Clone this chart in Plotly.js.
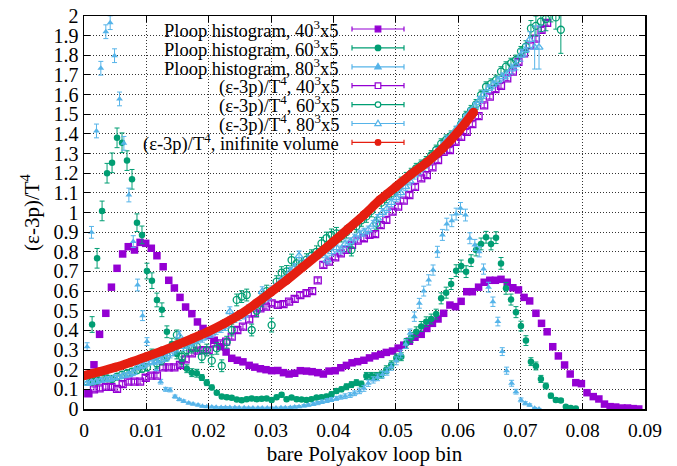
<!DOCTYPE html>
<html>
<head>
<meta charset="utf-8">
<script src="https://cdn.plot.ly/plotly-3.0.1.min.js"></script>
<style>html,body{margin:0;padding:0;background:#fff;}#chart{width:677px;height:466px;}</style>
</head>
<body>
<div id="chart"></div>
<script>
// ---------- data ----------
const bins40 = [0.0007,0.0016,0.0025,0.0035,0.0044,0.0053,0.0062,0.0071,0.0081,0.0090,
0.0099,0.0108,0.0117,0.0127,0.0136,0.0145,0.0154,0.0163,0.0173,0.0182,
0.0191,0.0200,0.0209,0.0219,0.0228,0.0237,0.0246,0.0255,0.0265,0.0274,
0.0283,0.0292,0.0301,0.0311,0.0320,0.0329,0.0338,0.0347,0.0357,0.0366,
0.0375,0.0384,0.0393,0.0403,0.0412,0.0421,0.0430,0.0439,0.0449,0.0458,
0.0467,0.0476,0.0485,0.0495,0.0504,0.0513,0.0522,0.0531,0.0541,0.0550,
0.0559,0.0568,0.0577,0.0587,0.0596,0.0605,0.0614,0.0623,0.0633,0.0642,
0.0651,0.0660,0.0669,0.0679,0.0688,0.0697,0.0706,0.0715,0.0725,0.0734,
0.0743,0.0752,0.0761,0.0771,0.0780,0.0789,0.0798,0.0807,0.0817,0.0826,
0.0835,0.0844,0.0853,0.0863,0.0872,0.0881,0.0890];

const bins60 = [0.0005,0.0013,0.0021,0.0029,0.0037,0.0045,0.0053,0.0061,0.0069,0.0077,
0.0085,0.0093,0.0101,0.0109,0.0117,0.0125,0.0133,0.0141,0.0149,0.0157,
0.0165,0.0173,0.0181,0.0189,0.0197,0.0205,0.0213,0.0221,0.0229,0.0237,
0.0245,0.0253,0.0261,0.0269,0.0277,0.0285,0.0293,0.0301,0.0309,0.0317,
0.0325,0.0333,0.0341,0.0349,0.0357,0.0365,0.0373,0.0381,0.0389,0.0397,
0.0405,0.0413,0.0421,0.0429,0.0437,0.0445,0.0453,0.0461,0.0469,0.0477,
0.0485,0.0493,0.0501,0.0509,0.0517,0.0525,0.0533,0.0541,0.0549,0.0557,
0.0565,0.0573,0.0581,0.0589,0.0597,0.0605,0.0613,0.0621,0.0629,0.0637,
0.0645,0.0653,0.0661,0.0669,0.0677,0.0685,0.0693,0.0701,0.0709,0.0717,
0.0725,0.0733,0.0741,0.0749,0.0757,0.0765,0.0773,0.0781,0.0789];

const bins80 = [0.0005,0.0012,0.0020,0.0027,0.0035,0.0042,0.0049,0.0057,0.0064,0.0072,
0.0079,0.0086,0.0094,0.0101,0.0109,0.0116,0.0123,0.0131,0.0138,0.0146,
0.0153,0.0160,0.0168,0.0175,0.0183,0.0190,0.0197,0.0205,0.0212,0.0220,
0.0227,0.0234,0.0242,0.0249,0.0257,0.0264,0.0271,0.0279,0.0286,0.0294,
0.0301,0.0308,0.0316,0.0323,0.0331,0.0338,0.0345,0.0353,0.0360,0.0368,
0.0375,0.0382,0.0390,0.0397,0.0405,0.0412,0.0419,0.0427,0.0434,0.0442,
0.0449,0.0456,0.0464,0.0471,0.0479,0.0486,0.0493,0.0501,0.0508,0.0516,
0.0523,0.0530,0.0538,0.0545,0.0553,0.0560,0.0567,0.0575,0.0582,0.0590,
0.0597,0.0604,0.0612,0.0619,0.0627,0.0634,0.0641,0.0649,0.0656,0.0664,
0.0671,0.0678,0.0686,0.0693,0.0701,0.0708,0.0715,0.0723,0.0730];

// Ploop histogram, 40^3x5 (on bins40)
const hist40 = [0.08,0.225,0.38,0.487,0.62,0.716,0.789,0.826,0.809,0.848,
0.843,0.818,0.78,0.724,0.655,0.616,0.568,0.519,0.485,0.443,
0.41,0.375,0.35,0.317,0.29,0.258,0.248,0.24,0.222,0.213,
0.205,0.2,0.195,0.196,0.185,0.178,0.182,0.195,0.193,0.19,
0.185,0.178,0.193,0.195,0.21,0.222,0.235,0.241,0.248,0.26,
0.27,0.278,0.288,0.295,0.31,0.325,0.345,0.365,0.38,0.41,
0.436,0.458,0.487,0.529,0.521,0.548,0.597,0.597,0.62,0.645,
0.655,0.655,0.66,0.645,0.617,0.606,0.568,0.55,0.487,0.436,
0.393,0.317,0.27,0.224,0.178,0.134,0.129,0.083,0.063,0.051,
0.025,0.012,0.01,0.005,0.005,0.002,0.0];

// Ploop histogram, 60^3x5 (on bins60, from the 2nd bin)
const hist60 = [0.43,0.767,1.008,1.2,1.253,1.38,1.355,1.264,1.169,0.948,
0.886,0.702,0.653,0.555,0.505,0.393,0.33,0.28,0.24,0.205,
0.185,0.182,0.16,0.134,0.11,0.083,0.063,0.06,0.057,0.048,
0.045,0.05,0.054,0.05,0.052,0.054,0.046,0.06,0.072,0.05,
0.058,0.05,0.048,0.046,0.05,0.058,0.06,0.063,0.075,0.092,
0.1,0.113,0.124,0.134,0.127,0.168,0.168,0.168,0.175,0.2,
0.225,0.26,0.266,0.334,0.365,0.393,0.42,0.444,0.458,0.483,
0.563,0.592,0.636,0.704,0.728,0.699,0.755,0.809,0.84,0.874,
0.84,0.872,0.741,0.614,0.557,0.493,0.422,0.348,0.241,0.219,
0.153,0.117,0.068,0.046,0.043,0.012,0.005,0.003];
const hist60Err = [0.04,0.05,0.05,0.05,0.05,0.05,0.05,0.05,0.05,0.045,
0.045,0.04,0.04,0.035,0.035,0.03,0.03,0.025,0.025,0.02,
0.02,0.02,0.015,0.015,0.012,0.01,0.01,0.01,0.01,0.01,
0.01,0.01,0.01,0.01,0.01,0.01,0.01,0.01,0.012,0.01,
0.01,0.01,0.01,0.01,0.01,0.01,0.01,0.012,0.012,0.012,
0.012,0.015,0.015,0.015,0.015,0.018,0.018,0.018,0.018,0.02,
0.02,0.02,0.02,0.025,0.025,0.025,0.025,0.025,0.025,0.025,
0.028,0.028,0.028,0.03,0.03,0.03,0.03,0.03,0.03,0.03,
0.03,0.03,0.03,0.03,0.028,0.028,0.025,0.025,0.02,0.02,
0.018,0.015,0.012,0.01,0.01,0.006,0.004,0.003];

// Ploop histogram, 80^3x5 (on bins80)
const hist80 = [0.317,0.899,1.415,1.734,1.92,1.966,1.798,1.578,1.352,1.089,
0.852,0.631,0.475,0.343,0.26,0.2,0.139,0.1,0.097,0.063,
0.048,0.04,0.03,0.025,0.02,0.014,0.012,0.01,0.009,0.008,
0.008,0.007,0.007,0.006,0.006,0.005,0.005,0.005,0.005,0.005,
0.005,0.005,0.006,0.006,0.008,0.01,0.012,0.016,0.02,0.025,
0.03,0.037,0.043,0.048,0.054,0.06,0.065,0.071,0.08,0.092,
0.105,0.131,0.148,0.161,0.175,0.19,0.215,0.245,0.28,0.33,
0.385,0.47,0.538,0.6,0.657,0.707,0.8,0.886,0.941,0.958,
0.992,1.021,0.987,0.869,0.835,0.8,0.712,0.62,0.546,0.445,
0.292,0.195,0.131,0.088,0.046,0.029,0.02,0.004,0.0];
const hist80Err = [0.02,0.03,0.035,0.035,0.035,0.035,0.035,0.035,0.035,0.035,
0.03,0.03,0.025,0.02,0.015,0.015,0.012,0.01,0.01,0.008,
0.006,0.006,0.005,0.005,0.005,0.004,0.004,0.004,0.004,0.004,
0.004,0.004,0.004,0.004,0.004,0.004,0.004,0.004,0.004,0.004,
0.004,0.004,0.004,0.004,0.005,0.005,0.005,0.006,0.006,0.007,
0.008,0.009,0.01,0.01,0.01,0.01,0.012,0.012,0.012,0.014,
0.015,0.016,0.016,0.017,0.017,0.018,0.018,0.02,0.02,0.022,
0.022,0.024,0.025,0.025,0.026,0.026,0.028,0.028,0.03,0.03,
0.03,0.03,0.03,0.028,0.028,0.026,0.026,0.025,0.024,0.022,
0.02,0.018,0.015,0.012,0.01,0.008,0.006,0.004,0.003];

// (e-3p)/T^4, 40^3x5 (on bins40)
const trace40 = [0.08,0.1,0.105,0.113,0.113,0.102,0.127,0.139,0.139,0.139,
0.159,0.17,0.17,0.212,0.212,0.212,0.224,0.253,0.283,0.297,
0.3,0.3,0.334,0.334,0.343,0.368,0.402,0.419,0.456,0.487,
0.512,0.521,0.538,0.53,0.534,0.546,0.56,0.58,0.59,0.6,
0.655,0.733,0.75,0.772,0.792,0.81,0.835,0.857,0.869,0.886,
0.89,0.936,0.962,1.004,1.03,1.06,1.089,1.13,1.174,1.19,
1.23,1.267,1.309,1.318,1.36,1.385,1.41,1.45,1.49,1.545,
1.59,1.628,1.644,1.683,1.717,1.767,1.81,1.85,1.885,1.93,
1.965];

// (e-3p)/T^4, 60^3x5 (on bins60)
const trace60 = [0.139,0.14,0.145,0.156,0.156,0.153,0.165,0.175,0.182,0.19,
0.198,0.205,0.212,0.28,0.233,0.25,0.27,0.317,0.377,0.266,
0.3,0.31,0.317,0.266,0.3,0.246,0.309,0.22,0.34,0.402,
0.555,0.572,0.58,0.402,0.5,0.55,0.6,0.427,0.648,0.694,
0.7,0.758,0.741,0.74,0.76,0.78,0.8,0.843,0.87,0.886,
0.894,0.88,0.9,0.809,0.93,0.96,0.98,1.008,0.945,1.05,
1.08,1.097,1.12,1.15,1.174,1.2,1.225,1.242,1.26,1.29,
1.318,1.35,1.37,1.39,1.411,1.45,1.49,1.52,1.55,1.598,
1.64,1.655,1.674,1.717,1.742,1.76,1.776,1.82,1.844,1.937,
1.95,1.971,1.985,2.05,1.993,1.93];
const trace60Err = [0.015,0.015,0.015,0.015,0.015,0.015,0.015,0.015,0.015,0.015,
0.018,0.018,0.018,0.025,0.025,0.025,0.025,0.025,0.025,0.025,
0.025,0.025,0.025,0.03,0.03,0.03,0.03,0.03,0.03,0.03,
0.03,0.03,0.03,0.03,0.03,0.03,0.03,0.035,0.03,0.03,
0.03,0.03,0.03,0.03,0.03,0.03,0.03,0.03,0.03,0.03,
0.03,0.03,0.03,0.03,0.03,0.03,0.03,0.03,0.03,0.03,
0.03,0.03,0.03,0.03,0.03,0.025,0.025,0.025,0.025,0.025,
0.025,0.025,0.025,0.025,0.025,0.025,0.025,0.025,0.025,0.025,
0.025,0.025,0.025,0.025,0.025,0.025,0.025,0.025,0.03,0.04,
0.05,0.05,0.06,0.08,0.06,0.12];

// (e-3p)/T^4, 80^3x5 (on bins80)
const trace80 = [0.13,0.135,0.14,0.145,0.15,0.152,0.16,0.163,0.17,0.175,
0.185,0.215,0.22,0.233,0.24,0.245,0.25,0.26,0.28,0.3,
0.371,0.317,0.33,0.34,0.355,0.36,0.375,0.385,0.4,0.41,
0.42,0.495,0.46,0.47,0.478,0.51,0.521,0.54,0.597,0.57,
0.606,0.62,0.65,0.66,0.7,0.72,0.779,0.74,0.76,0.77,
0.784,0.79,0.758,0.8,0.82,0.809,0.84,0.851,0.87,0.89,
0.9,0.911,0.94,0.97,1.0,1.02,1.05,1.075,1.1,1.131,
1.16,1.19,1.216,1.235,1.258,1.28,1.31,1.34,1.37,1.39,
1.42,1.45,1.48,1.51,1.54,1.57,1.6,1.63,1.65,1.67,
1.69,1.70,1.73,1.751,1.8,1.827,1.88,1.84,1.84];
const trace80Err = [0.01,0.01,0.01,0.01,0.01,0.01,0.01,0.01,0.012,0.012,
0.015,0.015,0.015,0.015,0.015,0.018,0.018,0.018,0.02,0.02,
0.025,0.02,0.02,0.02,0.02,0.02,0.02,0.02,0.02,0.02,
0.02,0.025,0.02,0.02,0.02,0.02,0.02,0.02,0.025,0.02,
0.02,0.02,0.02,0.02,0.02,0.02,0.025,0.02,0.02,0.02,
0.02,0.02,0.02,0.02,0.02,0.02,0.02,0.02,0.02,0.02,
0.02,0.02,0.02,0.02,0.02,0.02,0.02,0.02,0.02,0.02,
0.02,0.02,0.02,0.02,0.02,0.02,0.02,0.02,0.02,0.02,
0.02,0.02,0.02,0.02,0.02,0.02,0.02,0.02,0.02,0.02,
0.02,0.02,0.025,0.025,0.03,0.03,0.04,0.11,0.11];

// (e-3p)/T^4, infinite volume
const infX = [0,0.0025,0.005,0.0075,0.01,0.0125,0.015,0.0175,0.02,0.0225,0.025,0.0275,0.03,
0.0325,0.035,0.0375,0.04,0.0425,0.045,0.0475,0.05,0.0525,0.055,0.0575,0.06,0.0625];
const infY = [0.17,0.19,0.212,0.238,0.266,0.295,0.327,0.36,0.395,0.435,0.48,0.535,0.595,
0.655,0.72,0.785,0.851,0.92,0.99,1.065,1.13,1.195,1.255,1.325,1.41,1.51];

const legendLabels = [
  'Ploop histogram, 40<sup>3</sup>x5',
  'Ploop histogram, 60<sup>3</sup>x5',
  'Ploop histogram, 80<sup>3</sup>x5',
  '(ε-3p)/T<sup>4</sup>, 40<sup>3</sup>x5',
  '(ε-3p)/T<sup>4</sup>, 60<sup>3</sup>x5',
  '(ε-3p)/T<sup>4</sup>, 80<sup>3</sup>x5',
  '(ε-3p)/T<sup>4</sup>, inifinite volume'
];
const xTitle = 'bare Polyakov loop bin';
const yTitle = '(ε-3p)/T<sup>4</sup>';

// ---------- styling ----------
const PURPLE = '#9400d3', GREEN = '#009e73', BLUE = '#56b4e9', RED = '#e51e10';
const FONT = 'Liberation Serif, Times New Roman, serif';

function eb(color, arr, cval) {
  const o = {visible: true, color: color, thickness: 1, width: 2.5};
  if (arr) { o.type = 'data'; o.array = arr; } else { o.type = 'constant'; o.value = cval; }
  return o;
}

const traces = [
  {x: bins40.slice(0, hist40.length), y: hist40, mode: 'markers', type: 'scatter',
   marker: {symbol: 'square', size: 7.5, color: PURPLE}, error_y: eb(PURPLE, null, 0.01)},
  {x: bins60.slice(1, 1 + hist60.length), y: hist60, mode: 'markers', type: 'scatter',
   marker: {symbol: 'circle', size: 6.5, color: GREEN}, error_y: eb(GREEN, hist60Err)},
  {x: bins80.slice(0, hist80.length), y: hist80, mode: 'markers', type: 'scatter',
   marker: {symbol: 'triangle-up', size: 6, color: BLUE}, error_y: eb(BLUE, hist80Err)},
  {x: bins40.slice(0, trace40.length), y: trace40, mode: 'markers', type: 'scatter',
   marker: {symbol: 'square-open', size: 7, color: PURPLE, line: {width: 1.3, color: PURPLE}}, error_y: eb(PURPLE, null, 0.012)},
  {x: bins60.slice(0, trace60.length), y: trace60, mode: 'markers', type: 'scatter',
   marker: {symbol: 'circle-open', size: 7, color: GREEN, line: {width: 1.3, color: GREEN}}, error_y: eb(GREEN, trace60Err)},
  {x: bins80.slice(0, trace80.length), y: trace80, mode: 'markers', type: 'scatter',
   marker: {symbol: 'triangle-up-open', size: 7, color: BLUE, line: {width: 1.3, color: BLUE}}, error_y: eb(BLUE, trace80Err)},
  {x: infX, y: infY, mode: 'lines+markers', type: 'scatter',
   line: {color: RED, width: 9, shape: 'spline'}, marker: {symbol: 'circle', size: 9, color: RED}}
];

// ---------- legend (gnuplot style: text right-aligned, sample on the right) ----------
const L = 84, R = 645, T = 16, B = 409;
const px2x = p => (p - L) / (R - L);
const py2y = p => 1 - (p - T) / (B - T);
const rowPx = [29, 47.9, 66.8, 85.7, 104.6, 123.5, 142.4];
const colors = [PURPLE, GREEN, BLUE, PURPLE, GREEN, BLUE, RED];
const kinds = ['sq', 'ci', 'tr', 'sqo', 'cio', 'tro', 'ci'];
const shapes = [{type: 'rect', xref: 'paper', yref: 'paper', x0: 0, x1: px2x(412), y0: py2y(151), y1: 1,
  fillcolor: '#fff', line: {width: 0}, layer: 'between'}];
const annotations = [];
rowPx.forEach((p, i) => {
  const y = py2y(p), c = colors[i];
  const xa = px2x(352), xb = px2x(404), xm = px2x(378);
  shapes.push({type: 'line', xref: 'paper', yref: 'paper', x0: xa, x1: xb, y0: y, y1: y, line: {color: c, width: 1.2}});
  [xa, xb].forEach(xx => shapes.push({type: 'line', xref: 'paper', yref: 'paper', xsizemode: 'pixel', ysizemode: 'pixel',
    xanchor: xx, yanchor: y, x0: 0, x1: 0, y0: -2.6, y1: 2.6, line: {color: c, width: 1.2}}));
  const k = kinds[i];
  const base = {xref: 'paper', yref: 'paper', xsizemode: 'pixel', ysizemode: 'pixel', xanchor: xm, yanchor: y};
  const open = k.endsWith('o');
  const fill = open ? '#fff' : c;
  if (k.startsWith('sq')) shapes.push(Object.assign({type: 'rect', x0: -2.8, x1: 2.8, y0: -2.8, y1: 2.8, fillcolor: fill, line: {color: c, width: 1.2}}, base));
  else if (k.startsWith('ci')) shapes.push(Object.assign({type: 'circle', x0: -2.8, x1: 2.8, y0: -2.8, y1: 2.8, fillcolor: fill, line: {color: c, width: 1.2}}, base));
  else shapes.push(Object.assign({type: 'path', path: 'M-3.2,-2.2 L3.2,-2.2 L0,3.4 Z', fillcolor: fill, line: {color: c, width: 1.2}}, base));
  annotations.push({xref: 'paper', yref: 'paper', x: px2x(341), y: y, xanchor: 'right', yanchor: 'middle',
    text: legendLabels[i], showarrow: false, font: {family: FONT, size: 18.5, color: '#000'}});
});

const axisCommon = {
  showline: true, linecolor: '#000', linewidth: 1.5, mirror: 'ticks',
  ticks: 'inside', ticklen: 6, tickcolor: '#000', tickwidth: 1,
  showgrid: true, gridcolor: 'rgba(0,0,0,0.8)', gridwidth: 1, griddash: '1px,2px',
  zeroline: false, tickfont: {family: FONT, size: 20, color: '#000'}
};

const layout = {
  width: 677, height: 466,
  margin: {l: L, r: 677 - R, t: T, b: 466 - B},
  paper_bgcolor: '#fff', plot_bgcolor: '#fff',
  showlegend: false,
  xaxis: Object.assign({}, axisCommon, {range: [0, 0.09], dtick: 0.01, tick0: 0, ticklabelstandoff: 3,
    tickfont: {family: FONT, size: 19.5, color: '#000'},
    title: {text: xTitle, font: {family: FONT, size: 21, color: '#000'}, standoff: 15}}),
  yaxis: Object.assign({}, axisCommon, {range: [0, 2], dtick: 0.1, tick0: 0,
    title: {text: yTitle, font: {family: FONT, size: 21, color: '#000'}, standoff: 8}}),
  shapes: shapes,
  annotations: annotations
};

Plotly.newPlot('chart', traces, layout, {displayModeBar: false, staticPlot: true});
</script>
</body>
</html>
